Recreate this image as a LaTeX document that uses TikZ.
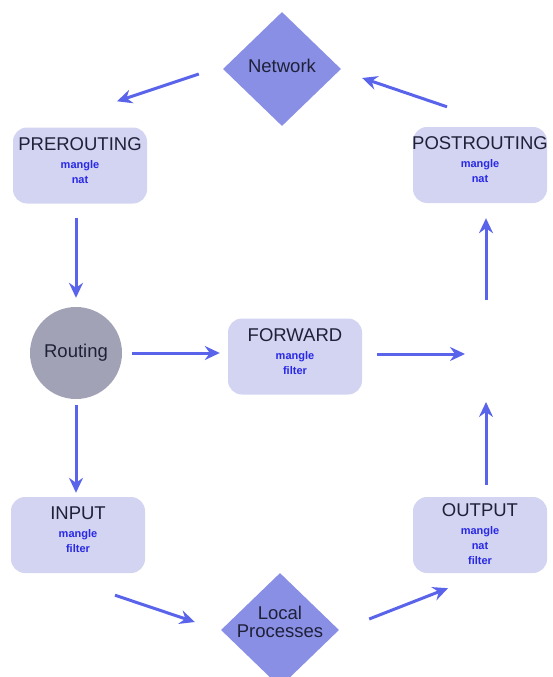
\documentclass[tikz,border=0pt]{standalone}
\usepackage{fontspec}
\setmainfont{Liberation Sans}
\usetikzlibrary{shapes.geometric,arrows.meta}

\definecolor{flowblue}{RGB}{90,100,235}
\definecolor{gatefill}{RGB}{138,143,230}
\definecolor{boxfill}{RGB}{210,212,242}
\definecolor{routefill}{RGB}{162,162,182}
\definecolor{titlecol}{RGB}{30,33,55}
\definecolor{subcol}{RGB}{40,40,230}

\newcommand{\chaintitle}[1]{{\fontsize{18.5}{20}\mdseries\selectfont\color{titlecol}#1}}

\tikzset{
  chainbox/.style={fill=boxfill, rounded corners=14pt, minimum width=134pt,
                   minimum height=76pt, inner sep=0pt},
  gate/.style={diamond, fill=gatefill, minimum width=118pt, minimum height=114pt,
               inner sep=0pt},
  router/.style={circle, fill=routefill, minimum size=92pt, inner sep=0pt},
  bigtext/.style={align=center, text=titlecol, inner sep=0pt,
                  font=\fontsize{18.5}{18}\selectfont},
  chaintext/.style={align=center, text=subcol, inner sep=0pt,
                    font=\fontsize{11}{15}\bfseries\selectfont},
  flow/.style={draw=flowblue, line width=3pt,
               -{Stealth[length=15pt,width=14pt,inset=5pt]}},
}

\begin{document}
\begin{tikzpicture}[x=1pt,y=-1pt]
  \clip (0,0) rectangle (552,677);
  \useasboundingbox (0,0) rectangle (552,677);

  % shapes
  \node[gate] (net) at (282,69) {};
  \node[bigtext] (net-t) at ([yshift=3pt]net.center) {Network};

  \node[chainbox] (pre) at (80,165.5) {};
  \node[chaintext] (pre-t) at ([yshift=5pt]pre.center)
    {\chaintitle{PREROUTING}\\[3pt] mangle\\ nat};

  \node[chainbox] (post) at (480,165) {};
  \node[chaintext] (post-t) at ([yshift=5pt]post.center)
    {\chaintitle{POSTROUTING}\\[3pt] mangle\\ nat};

  \node[router] (route) at (76,353) {};
  \node[bigtext] (route-t) at (route.center) {Routing};

  \node[chainbox] (fwd) at (295,356.5) {};
  \node[chaintext] (fwd-t) at ([yshift=5pt]fwd.center)
    {\chaintitle{FORWARD}\\[3pt] mangle\\ filter};

  \node[chainbox] (in) at (78,535) {};
  \node[chaintext] (in-t) at ([yshift=5pt]in.center)
    {\chaintitle{INPUT}\\[3pt] mangle\\ filter};

  \node[chainbox] (out) at (480,535) {};
  \node[chaintext] (out-t) at ([yshift=1pt]out.center)
    {\chaintitle{OUTPUT}\\[3pt] mangle\\ nat\\ filter};

  \node[gate] (local) at (280,630) {};
  \node[bigtext] (local-t) at ([yshift=8pt]local.center) {Local\\Processes};

  % where the forward and output paths meet before postrouting
  \coordinate (hub) at (486,352);

  % connectors
  \draw[flow] ([shift={(-24,5)}]net.west) -- ([shift={(37,-26)}]pre.north);
  \draw[flow] ([shift={(-33,-20)}]post.north) -- ([shift={(21,9)}]net.east);
  \draw[flow] ([shift={(-4,14)}]pre.south) -- ([shift={(0,-9)}]route.north);
  \draw[flow] ([shift={(0,6)}]route.south) -- ([shift={(-2,-4)}]in.north);
  \draw[flow] ([shift={(10,0)}]route.east) -- ([shift={(-8,-3.5)}]fwd.west);
  \draw[flow] ([shift={(15,-2.5)}]fwd.east) -- ([shift={(-21,2)}]hub);
  \draw[flow] ([shift={(6,-12)}]out.north) -- ([shift={(0,50)}]hub);
  \draw[flow] ([shift={(0,-52)}]hub) -- ([shift={(6,15)}]post.south);
  \draw[flow] ([shift={(37,22)}]in.south) -- ([shift={(-26,-8)}]local.west);
  \draw[flow] ([shift={(30,-11)}]local.east) -- ([shift={(-32,15)}]out.south);
\end{tikzpicture}
\end{document}
